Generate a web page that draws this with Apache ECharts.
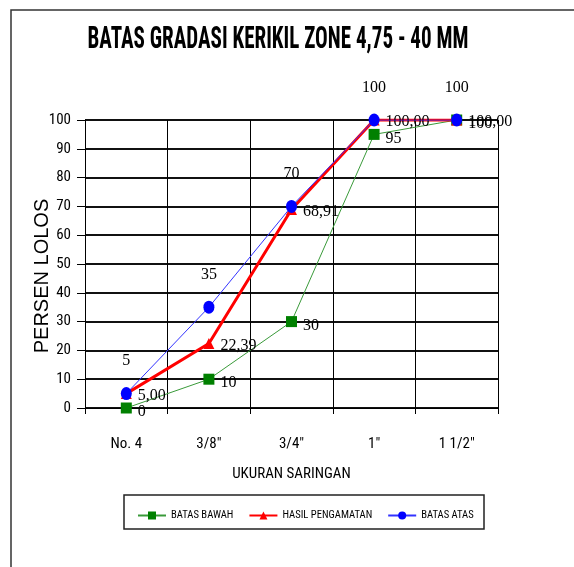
<!DOCTYPE html>
<html>
<head>
<meta charset="utf-8">
<script src="https://cdn.jsdelivr.net/npm/echarts@6/dist/echarts.min.js"></script>
<style>
  html, body { margin: 0; padding: 0; background: #fff; }
  #chart { width: 574px; height: 567px; }
</style>
</head>
<body>
<div id="chart"></div>
<script>
// ukuran saringan
const categories = ["No. 4", "3/8\"", "3/4\"", "1\"", "1 1/2\""];
const batasBawah = [0, 10, 30, 95, 100];
const hasilPengamatan = [5.0, 22.39, 68.91, 100.0, 100.0];
const batasAtas = [5, 35, 70, 100, 100];
const yTicks = [0, 10, 20, 30, 40, 50, 60, 70, 80, 90, 100];

const narrow = "'Roboto Condensed', 'Liberation Sans', sans-serif";
const serif = "'Liberation Serif', 'Times New Roman', serif";

const chart = echarts.init(document.getElementById("chart"));

const option = {
  backgroundColor: "#fff",
  animation: false,
  graphic: [
    // judul, dipersempit supaya mirip Arial Narrow
    {
      type: "text",
      x: 278,
      y: 40,
      scaleX: 0.68,
      style: {
        text: "BATAS GRADASI KERIKIL ZONE 4,75 - 40 MM",
        x: 0,
        y: 0,
        align: "center",
        verticalAlign: "middle",
        fontFamily: narrow,
        fontWeight: "bold",
        fontSize: 31,
        fill: "#000",
      },
    },
    {
      type: "polyline",
      shape: { points: [[11, 567], [11, 10], [574, 10]] },
      style: { stroke: "#333", lineWidth: 1.5, fill: null },
    },
    {
      type: "rect",
      shape: { x: 124, y: 495, width: 360, height: 34 },
      style: { stroke: "#222", lineWidth: 1.5, fill: null },
    },
  ],
  legend: {
    left: 132,
    top: 505,
    orient: "horizontal",
    itemWidth: 28,
    itemHeight: 10,
    itemGap: 15,
    textStyle: { fontFamily: narrow, fontSize: 10.6, color: "#000" },
    data: ["BATAS BAWAH", "HASIL PENGAMATAN", "BATAS ATAS"],
  },
  grid: { left: 85, right: 76, top: 120, bottom: 159 },
  xAxis: {
    type: "category",
    data: categories,
    boundaryGap: true,
    name: "UKURAN SARINGAN",
    nameLocation: "middle",
    nameGap: 59,
    nameMoveOverlap: false,
    nameTextStyle: { fontFamily: narrow, fontSize: 15, color: "#000" },
    axisLine: { lineStyle: { color: "#000", width: 1 } },
    axisTick: { show: true, length: 6, lineStyle: { color: "#000" } },
    axisLabel: { fontFamily: narrow, fontSize: 15, color: "#000", margin: 29 },
    splitLine: { show: true, lineStyle: { color: "#000", width: 1 } },
  },
  yAxis: {
    type: "value",
    min: 0,
    max: 100,
    interval: 10,
    name: "PERSEN LOLOS",
    nameLocation: "middle",
    nameGap: 33,
    nameMoveOverlap: false,
    nameRotate: 90,
    nameTextStyle: {
      fontFamily: "'Liberation Sans', Arial, sans-serif",
      fontSize: 20,
      color: "#000",
      padding: [0, 24, 0, 0],
    },
    axisLine: { show: true, lineStyle: { color: "#000", width: 1 } },
    axisTick: { show: true, length: 8, lineStyle: { color: "#000" } },
    axisLabel: {
      fontFamily: narrow,
      fontSize: 15,
      color: "#000",
      margin: 14,
      formatter: (v) => (yTicks.includes(v) ? String(v) : ""),
    },
    splitLine: { show: true, lineStyle: { color: "#111", width: 2 } },
  },
  series: [
    {
      name: "BATAS BAWAH",
      type: "line",
      data: batasBawah,
      symbol: "rect",
      symbolSize: 11,
      color: "#008000",
      lineStyle: { width: 1, color: "#3a9a3a" },
      itemStyle: { color: "#008000" },
      label: {
        show: true,
        position: "right",
        distance: 6,
        offset: [0, 4],
        fontFamily: serif,
        fontSize: 16,
        color: "#000",
        formatter: (p) => String(p.value),
      },
      z: 3,
    },
    {
      name: "HASIL PENGAMATAN",
      type: "line",
      data: hasilPengamatan,
      symbol: "triangle",
      symbolSize: 11,
      color: "#ff0000",
      lineStyle: { width: 3, color: "#ff0000" },
      itemStyle: { color: "#ff0000" },
      label: {
        show: true,
        position: "right",
        distance: 6,
        offset: [0, 2],
        fontFamily: serif,
        fontSize: 16,
        color: "#000",
        formatter: (p) => p.value.toFixed(2).replace(".", ","),
      },
      z: 4,
    },
    {
      name: "BATAS ATAS",
      type: "line",
      data: batasAtas,
      symbol: "circle",
      symbolSize: [11, 13],
      color: "#0000ff",
      lineStyle: { width: 1, color: "#3333ff" },
      itemStyle: { color: "#0000ff" },
      label: {
        show: true,
        position: "top",
        distance: 18,
        fontFamily: serif,
        fontSize: 16,
        color: "#000",
        formatter: (p) => String(p.value),
      },
      z: 5,
    },
  ],
};

chart.setOption(option);
</script>
</body>
</html>
